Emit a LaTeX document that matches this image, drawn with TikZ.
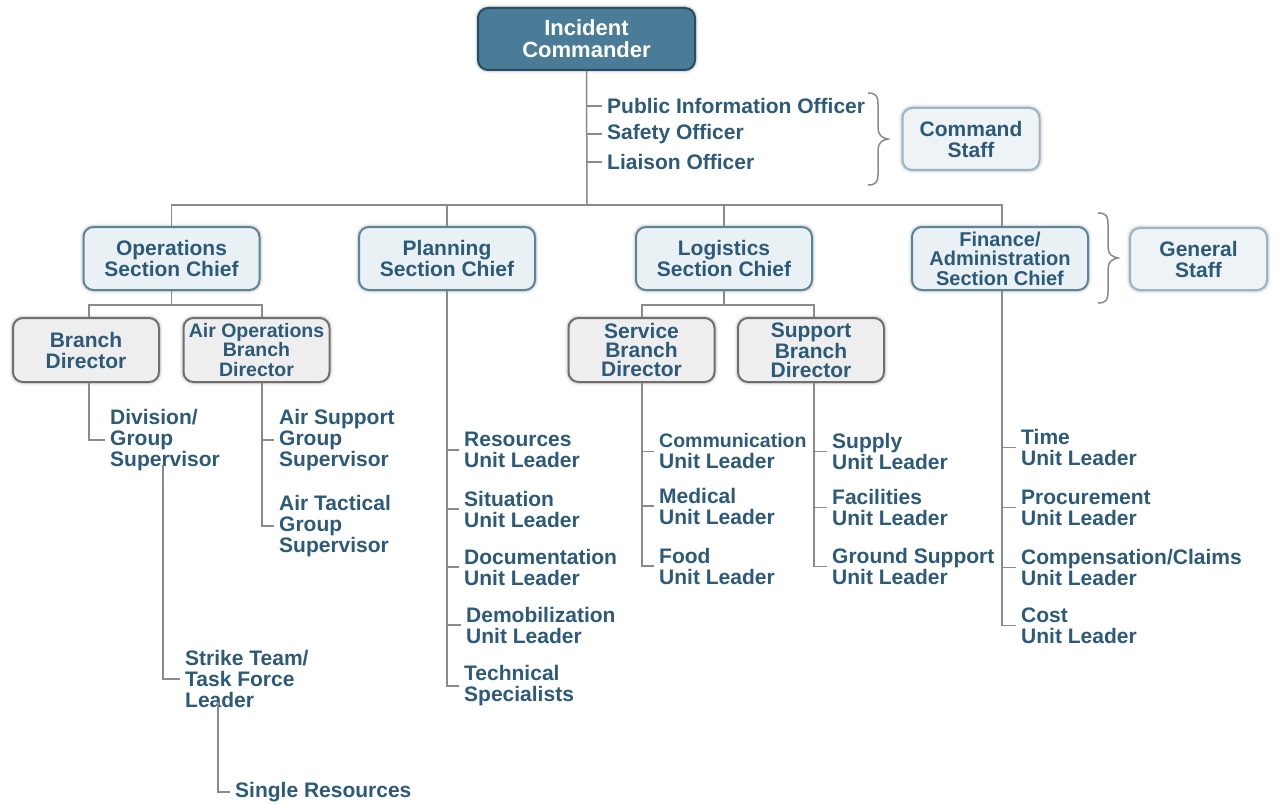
\documentclass[tikz,border=0pt]{standalone}
\usepackage{fontspec}
\setmainfont{Liberation Sans}
\definecolor{txt}{HTML}{2C5A78}
\definecolor{icfill}{HTML}{4A7B97}
\definecolor{icdraw}{HTML}{2A4C60}
\definecolor{secfill}{HTML}{EAF1F5}
\definecolor{secdraw}{HTML}{5C8598}
\definecolor{brfill}{HTML}{EEEEEE}
\definecolor{brdraw}{HTML}{6F6F6F}
\definecolor{stfill}{HTML}{EEF3F6}
\definecolor{stdraw}{HTML}{9AB4C2}
\definecolor{ln}{HTML}{8A8A8A}
\tikzset{
 glow/.style={preaction={draw=black, line width=7pt, opacity=0.05},
              preaction={draw=black, line width=4pt, opacity=0.09}},
 box/.style={rounded corners=10pt, line width=2pt, align=center, inner sep=0pt,
             text=txt, font=\fontsize{21}{21}\selectfont\bfseries, glow},
 icbox/.style={box, fill=icfill, draw=icdraw, text=white, minimum width=217pt,
             minimum height=62pt, font=\fontsize{22}{22}\selectfont\bfseries},
 secbox/.style={box, fill=secfill, draw=secdraw, minimum width=176pt, minimum height=63pt},
 brbox/.style={box, fill=brfill, draw=brdraw, minimum width=146pt, minimum height=64pt},
 stbox/.style={box, fill=stfill, draw=stdraw, minimum width=137pt, minimum height=62pt},
 lbl/.style={anchor=west, inner xsep=5pt, inner ysep=0pt, align=left, text=txt,
             font=\fontsize{21}{21}\selectfont\bfseries},
 conn/.style={draw=ln, line width=1.5pt},
 bracestyle/.style={draw=ln, line width=1.5pt},
}
\begin{document}
\begin{tikzpicture}[x=1pt, y=-1pt]
\useasboundingbox[fill=white] (0,0) rectangle (1279,805);

% ---- top level
\node[icbox] (ic) at (586.5,39) {Incident\\Commander};
\node[lbl] (pio) at (602,106) {Public Information Officer};
\node[lbl] (so) at (602,134) {Safety Officer};
\node[lbl] (lo) at (602,162) {Liaison Officer};
\node[stbox] (cs) at (971,139) {Command\\Staff};
\coordinate (bus) at (587,205);

% ---- sections
\node[secbox] (ops) at (171.5,258.5) {Operations\\Section Chief};
\node[secbox] (plan) at (447,258.5) {Planning\\Section Chief};
\node[secbox] (log) at (724,258.5) {Logistics\\Section Chief};
\node[secbox, font=\fontsize{20}{19.5}\selectfont\bfseries] (fin) at (1000,258.5) {Finance/\\Administration\\Section Chief};
\node[stbox] (gs) at (1198.5,259) {General\\Staff};

% ---- branches
\node[brbox] (bd) at (86,350) {Branch\\Director};
\node[brbox, font=\fontsize{19.5}{19.5}\selectfont\bfseries] (aob) at (256.5,350) {Air Operations\\Branch\\Director};
\node[brbox, font=\fontsize{21}{19}\selectfont\bfseries] (sbd) at (641.5,350) {Service\\Branch\\Director};
\node[brbox, font=\fontsize{21}{19}\selectfont\bfseries] (spbd) at (811,350) {Support\\Branch\\Director};

\coordinate (bdx) at (89,0);
\coordinate (aox) at (262,0);
\coordinate (sbx) at (642,0);
\coordinate (spx) at (814,0);
\coordinate (finx) at (1002,0);
\coordinate (dvx) at (163,0);
\coordinate (stx) at (218,0);

% ---- operations labels
\node[lbl] (div) at (105,440) {Division/\\Group\\Supervisor};
\node[lbl] (asg) at (274,440) {Air Support\\Group\\Supervisor};
\node[lbl] (atg) at (274,526) {Air Tactical\\Group\\Supervisor};
\node[lbl] (stl) at (180,679) {Strike Team/\\Task Force\\Leader};
\node[lbl] (sr) at (230,792) {Single Resources};

% ---- planning labels
\node[lbl] (rul) at (459,450) {Resources\\Unit Leader};
\node[lbl] (sul) at (459,509) {Situation\\Unit Leader};
\node[lbl] (dul) at (459,567) {Documentation\\Unit Leader};
\node[lbl] (dmul) at (461,625) {Demobilization\\Unit Leader};
\node[lbl] (ts) at (459,686) {Technical\\Specialists};

% ---- logistics labels
\node[lbl, font=\fontsize{20}{21}\selectfont\bfseries] (cul) at (654,451.5) {\fontsize{19.5}{21}\selectfont Communication\\\fontsize{21}{21}\selectfont Unit Leader};
\node[lbl] (mul) at (654,506) {Medical\\Unit Leader};
\node[lbl] (ful) at (654,566) {Food\\Unit Leader};
\node[lbl] (sup) at (827,451.5) {Supply\\Unit Leader};
\node[lbl] (fac) at (827,507.5) {Facilities\\Unit Leader};
\node[lbl] (gsu) at (827,566.5) {Ground Support\\Unit Leader};

% ---- finance labels
\node[lbl] (tul) at (1016,447.5) {Time\\Unit Leader};
\node[lbl] (pul) at (1016,507.5) {Procurement\\Unit Leader};
\node[lbl] (ccul) at (1016,567.5) {Compensation/Claims\\Unit Leader};
\node[lbl] (cost) at (1016,625.5) {Cost\\Unit Leader};

% ---- connectors: top
\draw[conn] (ic.south) -- (bus);
\draw[conn] (ic.south |- pio.west) -- (pio.west);
\draw[conn] (ic.south |- so.west) -- (so.west);
\draw[conn] (ic.south |- lo.west) -- (lo.west);
\draw[conn] (ops.north) |- (bus) -| (fin.north -| finx);
\draw[conn] (plan.north) -- (plan.north |- bus);
\draw[conn] (log.north) -- (log.north |- bus);

% ---- operations
\draw[conn] (ops.south) -- ++(0,14) coordinate (opsj);
\draw[conn] (bd.north -| bdx) |- (opsj) -| (aob.north -| aox);
\draw[conn] (bd.south -| bdx) |- (div.west);
\draw[conn] (aob.south -| aox) |- (atg.west);
\draw[conn] (aox |- asg.west) -- (asg.west);
\draw[conn] ([yshift=6pt]div.south -| dvx) |- (stl.west);
\draw[conn] ([yshift=6pt]stl.south -| stx) |- (sr.west);

% ---- planning
\draw[conn] (plan.south) |- (ts.west);
\foreach \n in {rul,sul,dul,dmul}
  \draw[conn] (plan.south |- \n.west) -- (\n.west);

% ---- logistics
\draw[conn] (log.south) -- ++(0,14) coordinate (logj);
\draw[conn] (sbd.north -| sbx) |- (logj) -| (spbd.north -| spx);
\draw[conn] (sbd.south -| sbx) |- (ful.west);
\foreach \n in {cul,mul}
  \draw[conn] (sbx |- \n.west) -- (\n.west);
\draw[conn] (spbd.south -| spx) |- (gsu.west);
\foreach \n in {sup,fac}
  \draw[conn] (spx |- \n.west) -- (\n.west);

% ---- finance
\draw[conn] (fin.south -| finx) |- (cost.west);
\foreach \n in {tul,pul,ccul}
  \draw[conn] (finx |- \n.west) -- (\n.west);

% ---- braces
\draw[bracestyle] (868,93) .. controls (876,93) and (878,96) .. (878,104) -- (878,128)
  .. controls (878,135) and (882,138) .. (888,139)
  .. controls (882,140) and (878,143) .. (878,150) -- (878,174)
  .. controls (878,182) and (876,185) .. (868,185);
\draw[bracestyle] (1098,213) .. controls (1106,213) and (1108,216) .. (1108,224) -- (1108,247)
  .. controls (1108,254) and (1112,257) .. (1118,258)
  .. controls (1112,259) and (1108,262) .. (1108,269) -- (1108,292)
  .. controls (1108,300) and (1106,303) .. (1098,303);
\end{tikzpicture}
\end{document}
